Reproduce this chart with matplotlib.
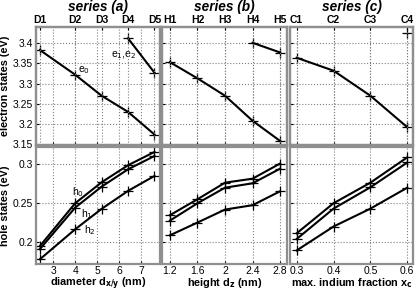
import matplotlib
matplotlib.use('agg')
import matplotlib.pyplot as plt

plt.rcParams['font.family'] = ['Liberation Sans', 'DejaVu Sans']

# series (a): dot diameter
diam = [2.4, 4.0, 5.2, 6.4, 7.6]
diam_names = ['D1', 'D2', 'D3', 'D4', 'D5']
e0_a = [3.383, 3.322, 3.270, 3.230, 3.174]
e12_a_x = [6.4, 7.6]
e12_a = [3.412, 3.327]
h0_a = [0.1945, 0.2492, 0.2760, 0.2978, 0.3148]
h1_a = [0.1907, 0.2436, 0.2704, 0.2926, 0.3096]
h2_a = [0.1776, 0.2159, 0.2420, 0.2650, 0.2841]

# series (b): dot height
height = [1.2, 1.6, 2.0, 2.4, 2.8]
height_names = ['H1', 'H2', 'H3', 'H4', 'H5']
e0_b = [3.353, 3.313, 3.270, 3.208, 3.158]
e12_b_x = [2.4, 2.8]
e12_b = [3.401, 3.377]
h0_b = [0.2339, 0.2543, 0.2755, 0.2806, 0.3000]
h1_b = [0.2270, 0.2492, 0.2691, 0.2747, 0.2934]
h2_b = [0.2082, 0.2245, 0.2411, 0.2467, 0.2645]

# series (c): indium fraction
conc = [0.3, 0.4, 0.5, 0.6]
conc_names = ['C1', 'C2', 'C3', 'C4']
e0_c = [3.364, 3.332, 3.270, 3.192]
e12_c_x = [0.6]
e12_c = [3.425]
h0_c = [0.2107, 0.2492, 0.2755, 0.3079]
h1_c = [0.2034, 0.2423, 0.2696, 0.3013]
h2_c = [0.1888, 0.2194, 0.2423, 0.2691]

fig = plt.figure(figsize=(4.15, 2.93), dpi=100)

cols = [0.0867, 0.3904, 0.6988]
widths = [0.2988, 0.3012, 0.2964]
top_y, top_h = 0.505, 0.4027
bot_y, bot_h = 0.099, 0.399

series = [
    dict(x=diam, names=diam_names, e0=e0_a, ex=e12_a_x, e12=e12_a, h=[h0_a, h1_a, h2_a],
         xlim=(2.22, 7.85), ticks=[3, 4, 5, 6, 7], ticklabels=['3', '4', '5', '6', '7'],
         xlabel='diameter d$_{\\mathbf{x/y}}$ (nm)', title='series (a)'),
    dict(x=height, names=height_names, e0=e0_b, ex=e12_b_x, e12=e12_b, h=[h0_b, h1_b, h2_b],
         xlim=(1.085, 2.9), ticks=[1.2, 1.6, 2.0, 2.4, 2.8], ticklabels=['1.2', '1.6', '2', '2.4', '2.8'],
         xlabel='height d$_{\\mathbf{z}}$ (nm)', title='series (b)'),
    dict(x=conc, names=conc_names, e0=e0_c, ex=e12_c_x, e12=e12_c, h=[h0_c, h1_c, h2_c],
         xlim=(0.282, 0.6155), ticks=[0.3, 0.4, 0.5, 0.6], ticklabels=['0.3', '0.4', '0.5', '0.6'],
         xlabel='max. indium fraction x$_{\\mathbf{c}}$', title='series (c)'),
]

frame = '#8f8f8f'
lkw = dict(color='black', lw=1.5, marker='+', ms=6.5, mew=0.9)

def style(ax):
    for s in ax.spines.values():
        s.set_color(frame)
        s.set_linewidth(1.6)
    ax.tick_params(direction='in', length=2.5, width=0.8, labelsize=7.5, pad=2, colors='black')
    ax.grid(True, ls=':', color='#808080', lw=0.8)

for i, s in enumerate(series):
    axt = fig.add_axes([cols[i], top_y, widths[i], top_h])
    axb = fig.add_axes([cols[i], bot_y, widths[i], bot_h])

    axt.plot(s['x'], s['e0'], **lkw)
    axt.plot(s['ex'], s['e12'], **lkw)
    axt.set_xlim(s['xlim'])
    axt.set_ylim(3.148, 3.44)
    axt.set_xticks(s['ticks'])
    axt.set_xticklabels([])
    axt.set_yticks([3.15, 3.2, 3.25, 3.3, 3.35, 3.4])
    style(axt)
    tw = axt.twiny()
    tw.set_xlim(s['xlim'])
    tw.set_xticks(s['x'])
    tw.set_xticklabels(s['names'], fontweight='bold')
    style(tw)
    tw.tick_params(pad=1.5)
    tw.set_title(s['title'], fontsize=9.8, fontweight='bold', style='italic', pad=3)

    for h in s['h']:
        axb.plot(s['x'], h, **lkw)
    axb.set_xlim(s['xlim'])
    axb.set_ylim(0.1715, 0.321)
    axb.set_xticks(s['ticks'])
    axb.set_xticklabels(s['ticklabels'])
    axb.set_yticks([0.2, 0.25, 0.3])
    style(axb)
    axb.tick_params(axis='x', pad=1.5)
    axb.set_xlabel(s['xlabel'], fontsize=7.8, fontweight='bold', labelpad=0)

    if i == 0:
        axt.set_yticklabels(['3.15', '3.2', '3.25', '3.3', '3.35', '3.4'])
        axb.set_yticklabels(['0.2', '0.25', '0.3'])
        axt.set_ylabel('electron states (eV)', fontsize=7.8, fontweight='bold', labelpad=2)
        axb.set_ylabel('hole states (eV)', fontsize=7.8, fontweight='bold', labelpad=2)
        tk = dict(fontsize=7.5, ha='left', va='center')
        axt.text(4.14, 3.334, 'e$_0$', **tk)
        axt.text(6.76, 3.37, 'e$_1$,e$_2$', fontsize=7.5, ha='right', va='center')
        axb.text(3.86, 0.264, 'h$_0$', **tk)
        axb.text(4.26, 0.2356, 'h$_1$', **tk)
        axb.text(4.41, 0.2143, 'h$_2$', **tk)
    else:
        axt.set_yticklabels([])
        axb.set_yticklabels([])

fig.savefig('out.png', dpi=100)
